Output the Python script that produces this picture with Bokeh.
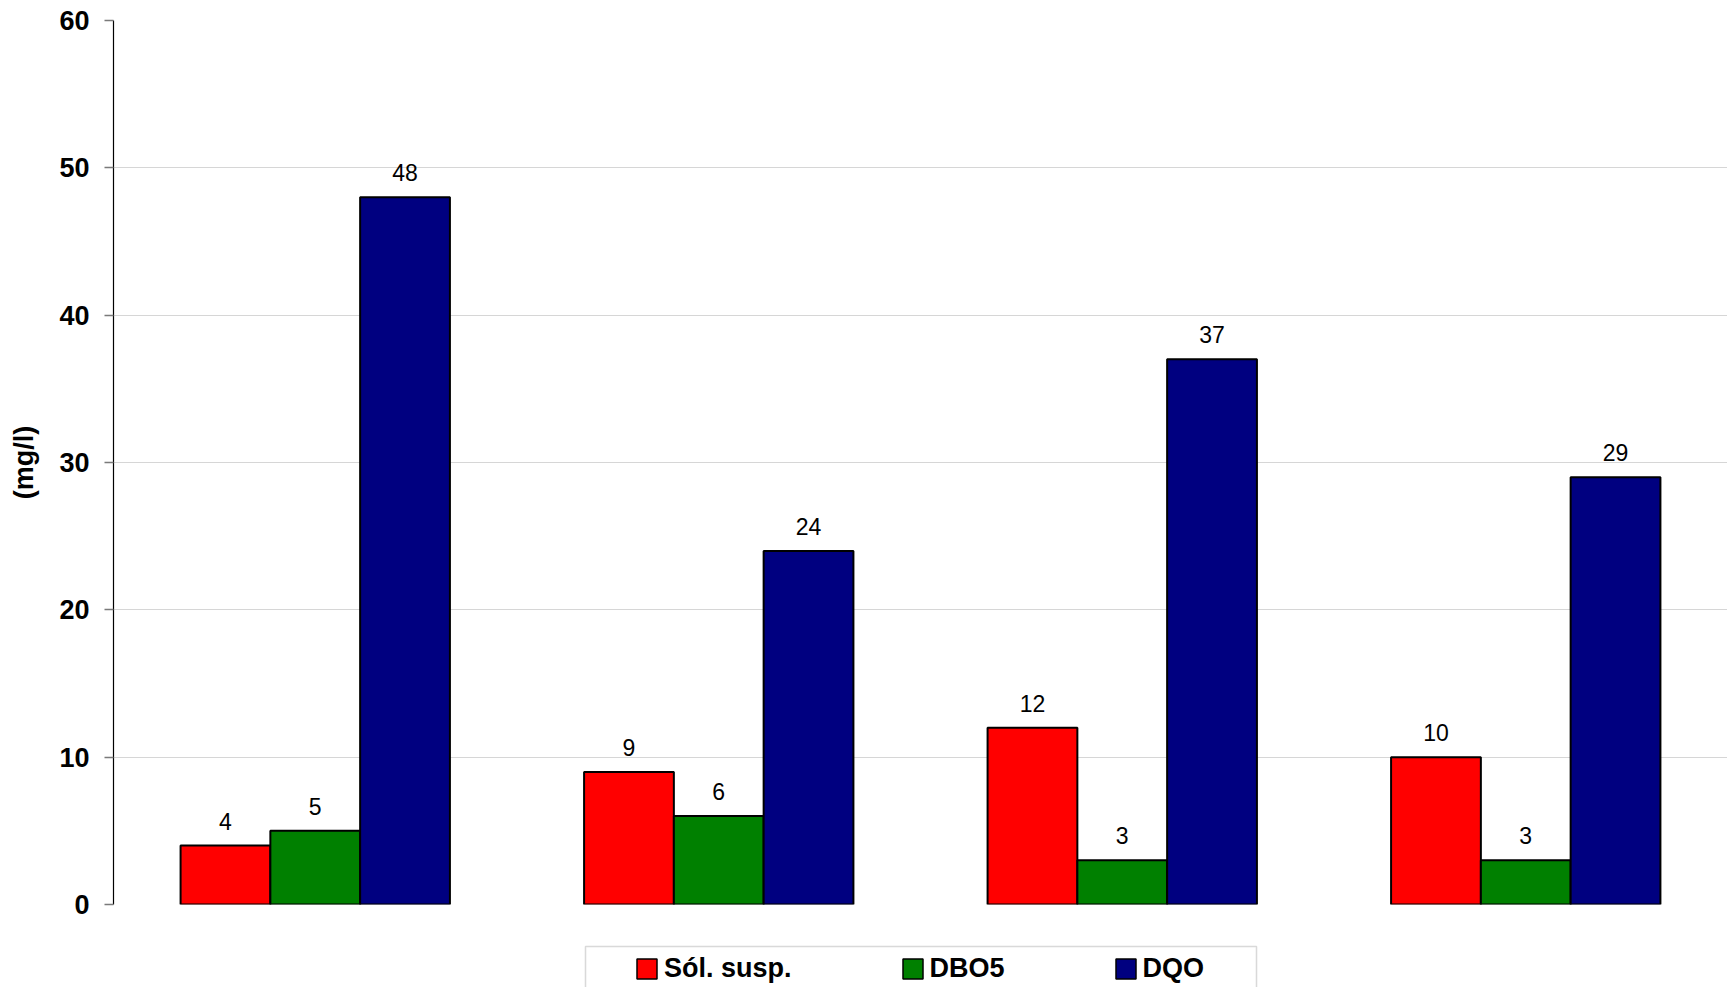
from bokeh.plotting import figure
from bokeh.layouts import column
from bokeh.models import (ColumnDataSource, FactorRange, FixedTicker, Legend,
                          LegendItem, LabelSet, BoxAnnotation, Range1d)
from bokeh.core.properties import value
from bokeh.transform import dodge
from bokeh.embed import file_html
from bokeh.resources import INLINE

# Monitoring points (not labelled on the axis)
points = ["P1", "P2", "P3", "P4"]

# Concentrations in mg/l
sol_susp = [4, 9, 12, 10]
dbo5 = [5, 6, 3, 3]
dqo = [48, 24, 37, 29]

series_names = ["Sól. susp.", "DBO5", "DQO"]
series_colors = ["#FF0000", "#008000", "#000080"]

y_ticks = [0, 10, 20, 30, 40, 50, 60]
y_label = "(mg/l)"

FONT = "Liberation Sans"
W = 1727
H_CHART, H_LEGEND = 930, 57
LEFT, TOP, BOTTOM = 113, 20, 26
BAR_W = 0.2225

src = ColumnDataSource(dict(
    pt=points,
    s0=sol_susp, s1=dbo5, s2=dqo,
    t0=[str(v) for v in sol_susp],
    t1=[str(v) for v in dbo5],
    t2=[str(v) for v in dqo],
))

p = figure(
    width=W, height=H_CHART,
    x_range=FactorRange(factors=points, range_padding=0),
    y_range=(y_ticks[0], y_ticks[-1]),
    output_backend="svg", toolbar_location=None,
    x_axis_location=None,
    min_border_left=LEFT, min_border_right=0,
    min_border_top=TOP, min_border_bottom=BOTTOM,
)
p.outline_line_color = None
p.background_fill_color = "white"
p.border_fill_color = "white"

# grid
p.xgrid.visible = False
p.ygrid.grid_line_color = "#d6d6d6"
p.ygrid.grid_line_width = 1.2

# y axis
ax = p.yaxis[0]
ax.ticker = FixedTicker(ticks=y_ticks)
ax.bounds = (y_ticks[0], y_ticks[-1])
ax.axis_line_color = "black"
ax.axis_line_width = 1.2
ax.major_tick_in = 0
ax.major_tick_out = 9
ax.major_tick_line_color = "#7a7a7a"
ax.major_tick_line_width = 1.5
ax.minor_tick_line_color = None
ax.major_label_standoff = 15
ax.major_label_text_font = FONT
ax.major_label_text_font_style = "bold"
ax.major_label_text_font_size = "27px"
ax.major_label_text_color = "black"
ax.axis_label = y_label
ax.axis_label_text_font = FONT
ax.axis_label_text_font_style = "bold"
ax.axis_label_text_font_size = "27px"
ax.axis_label_text_color = "black"
ax.axis_label_standoff = 17

# grouped bars with value labels
offsets = [-BAR_W, 0.0, BAR_W]
for i, color in enumerate(series_colors):
    p.vbar(x=dodge("pt", offsets[i], range=p.x_range), top=f"s{i}",
           width=BAR_W, bottom=0, source=src,
           fill_color=color, line_color="black", line_width=2)
    p.add_layout(LabelSet(
        x=dodge("pt", offsets[i], range=p.x_range), y=f"s{i}", text=f"t{i}",
        source=src, text_align="center", text_baseline="alphabetic",
        y_offset=16, text_font=value(FONT), text_font_size="23px",
        text_color="black"))

# legend strip under the chart (its frame lines up with the chart's frame)
lg = figure(
    width=W, height=H_LEGEND, x_range=p.x_range, y_range=Range1d(0, 1),
    output_backend="svg", toolbar_location=None,
    x_axis_location=None, y_axis_location=None,
    min_border_left=LEFT, min_border_right=0, min_border_top=0, min_border_bottom=0,
)
lg.outline_line_color = None
lg.xgrid.visible = False
lg.ygrid.visible = False
lg.background_fill_color = "white"
lg.border_fill_color = "white"

# hidden copies of the series, used only for the legend swatches
swatches = []
for i, color in enumerate(series_colors):
    swatches.append(lg.vbar(x=dodge("pt", offsets[i], range=p.x_range), top=f"s{i}",
                            width=BAR_W, source=src, fill_color=color,
                            line_color="black", line_width=1.5, visible=False))

lg.add_layout(BoxAnnotation(
    left=472, right=1143, top=41, bottom=-100,
    left_units="screen", right_units="screen",
    top_units="screen", bottom_units="screen",
    fill_color=None, line_color="#808080", line_width=1.5))

legend = Legend(
    items=[LegendItem(label=n, renderers=[r]) for n, r in zip(series_names, swatches)],
    orientation="horizontal", location=(521, 3),
    spacing=108, padding=0, margin=0,
    glyph_width=25, glyph_height=25, label_standoff=5,
    label_text_font=FONT, label_text_font_style="bold",
    label_text_font_size="27px", label_text_color="black",
    border_line_color=None, background_fill_alpha=0,
)
lg.add_layout(legend, "center")

open("out.html", "w").write(file_html(column(p, lg, spacing=0), INLINE))
